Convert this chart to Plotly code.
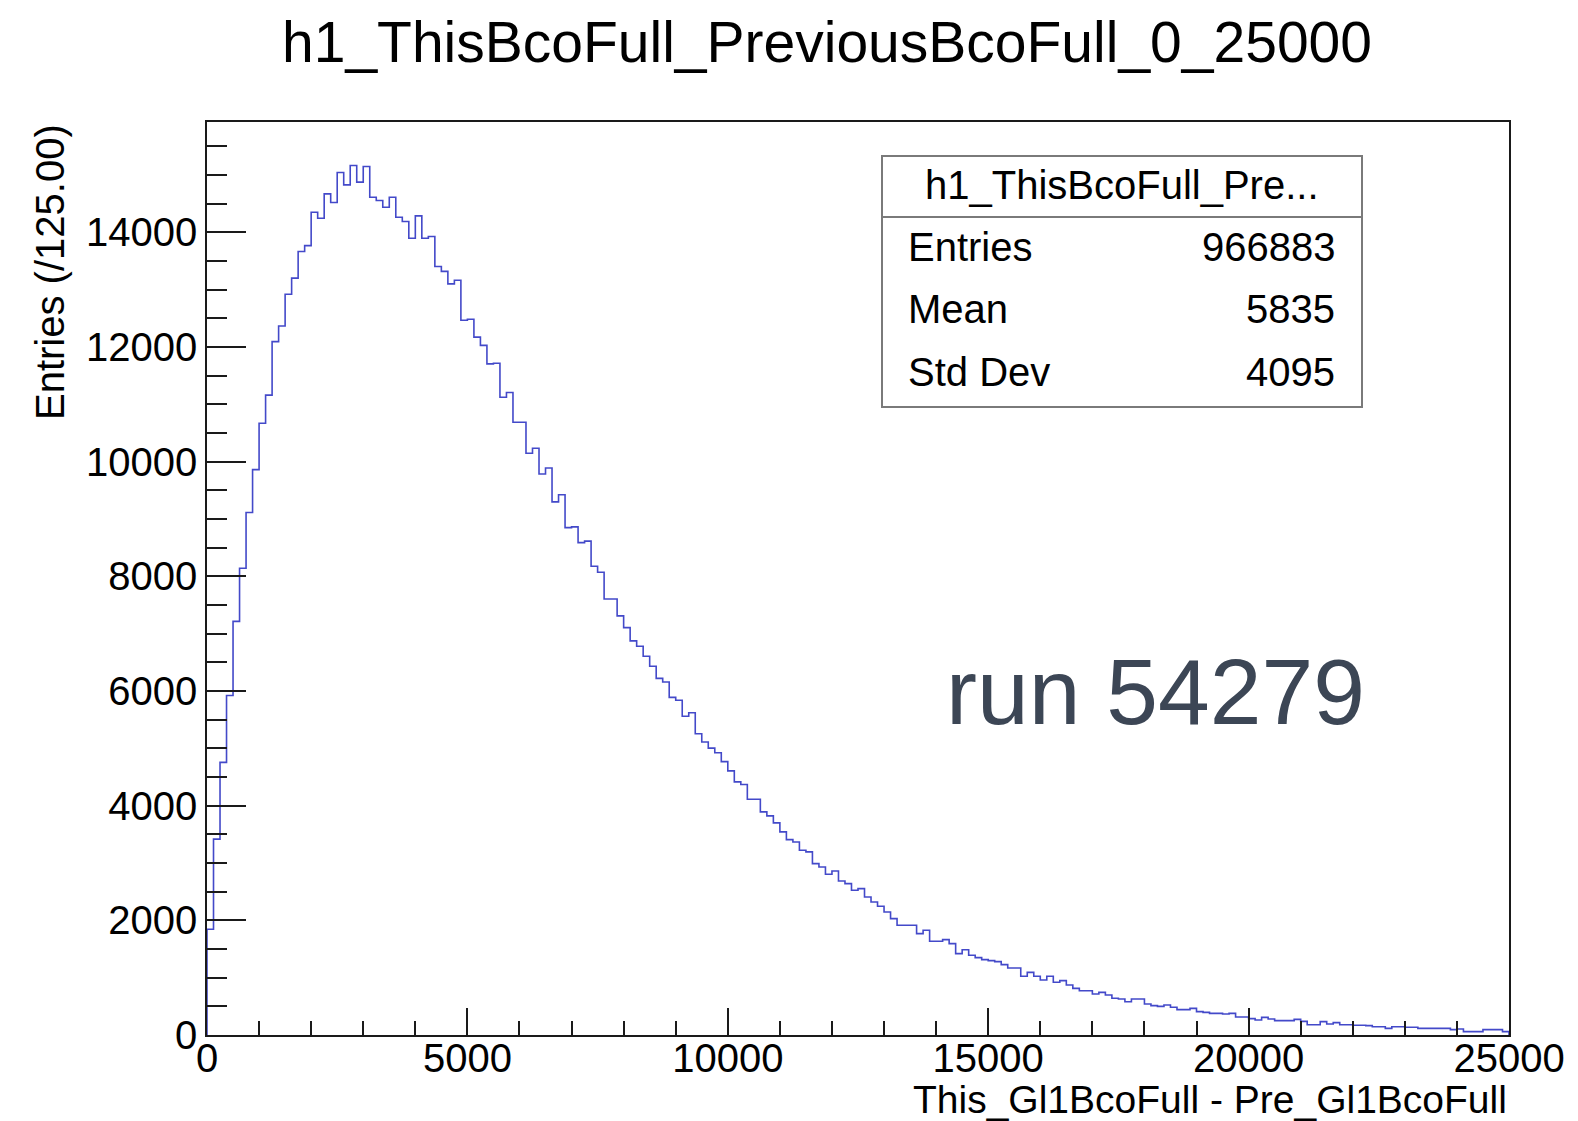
import plotly.graph_objects as go

# ---------------- data ----------------
bin_width = 125
x_min, x_max = 0, 25000
counts = [
    1844, 3416, 4755, 5922, 7214, 8140, 9113, 9860, 10669, 11159,
    12093, 12366, 12920, 13200, 13664, 13768, 14350, 14245, 14670, 14519,
    15042, 14827, 15165, 14874, 15147, 14612, 14554, 14437, 14612, 14263,
    14187, 13897, 14286, 13897, 13926, 13402, 13318, 13100, 13163, 12465,
    12483, 12172, 12028, 11704, 11717, 11124, 11206, 10688, 10688, 10146,
    10233, 9784, 9890, 9298, 9423, 8849, 8862, 8588, 8613, 8176,
    8070, 7603, 7603, 7310, 7104, 6874, 6780, 6606, 6431, 6219,
    6157, 5889, 5839, 5558, 5621, 5253, 5110, 5004, 4923, 4767,
    4606, 4414, 4368, 4112, 4112, 3891, 3821, 3699, 3542, 3408,
    3367, 3222, 3193, 2989, 2931, 2803, 2861, 2687, 2640, 2524,
    2553, 2408, 2320, 2245, 2146, 2029, 1913, 1913, 1913, 1768,
    1826, 1634, 1634, 1663, 1593, 1419, 1488, 1390, 1349, 1314,
    1297, 1279, 1227, 1169, 1169, 1024, 1093, 1024, 960, 1024,
    919, 948, 872, 814, 773, 773, 715, 744, 698, 640,
    628, 581, 628, 628, 541, 512, 500, 523, 483, 442,
    442, 465, 407, 395, 378, 378, 366, 378, 314, 314,
    285, 262, 308, 279, 250, 250, 250, 273, 238, 180,
    180, 233, 192, 215, 180, 180, 169, 169, 163, 145,
    145, 116, 145, 145, 134, 134, 116, 116, 116, 116,
    116, 93, 105, 58, 58, 58, 93, 93, 93, 58,
]
hist_name = "h1_ThisBcoFull_PreviousBcoFull_0_25000"
stats_title = "h1_ThisBcoFull_Pre..."
stats_labels = ["Entries", "Mean", "Std Dev"]
stats_values = ["966883", "5835", "4095"]
x_title = "This_Gl1BcoFull - Pre_Gl1BcoFull"
y_title = "Entries (/125.00)"
run_label = "run 54279"
x_tickvals = [0, 5000, 10000, 15000, 20000, 25000]
y_tickvals = [0, 2000, 4000, 6000, 8000, 10000, 12000, 14000]

# ---------------- geometry ----------------
W, H = 1578, 1121
L, R, T, B = 207, 69, 122, 86
PW, PH = W - L - R, H - T - B

def px(xp):
    return (xp - L) / PW

def py(yp):
    return (H - B - yp) / PH

edges = [x_min + i * bin_width for i in range(len(counts) + 1)]
xs = [edges[0]] + edges
ys = [0] + counts + [0]
y_top = 1.05 * max(counts)

FONT = "Liberation Sans, Arial, Helvetica, sans-serif"

fig = go.Figure()
fig.add_trace(go.Scatter(
    x=xs, y=ys, mode="lines", line=dict(shape="hv", color="#4349c9", width=1.6),
    hoverinfo="skip", showlegend=False,
))

axis_common = dict(
    showgrid=False, zeroline=False, showline=True, linecolor="#1a1a1a",
    linewidth=1.5, mirror=True, ticks="inside", tickcolor="#1a1a1a",
    tickwidth=1.5, tickformat="d", tickfont=dict(family=FONT, size=40, color="black"),
)
fig.update_xaxes(
    range=[x_min, x_max], tickvals=x_tickvals, ticklen=27, ticklabelstandoff=-13,
    minor=dict(dtick=1000, ticklen=14, ticks="inside", tickcolor="#1a1a1a", tickwidth=1.5),
    **axis_common,
)
fig.update_yaxes(
    range=[0, y_top], tickvals=y_tickvals, ticklen=39,
    minor=dict(dtick=500, ticklen=20, ticks="inside", tickcolor="#1a1a1a", tickwidth=1.5),
    **axis_common,
)

ann = []
# axis titles
ann.append(dict(text=x_title, xref="paper", yref="paper", x=1.0, y=py(1099),
                xanchor="right", yanchor="middle", showarrow=False,
                font=dict(family=FONT, size=39, color="black")))
ann.append(dict(text=y_title, xref="paper", yref="paper", x=px(50), y=1.0,
                xanchor="center", yanchor="top", textangle=-90, showarrow=False,
                font=dict(family=FONT, size=40, color="black")))
# stats box
box_x0, box_x1, box_y0, box_y1, sep_y = 882, 1362, 156, 407, 217
ann.append(dict(text=stats_title, xref="paper", yref="paper",
                x=px((box_x0 + box_x1) / 2), y=py(185), xanchor="center", yanchor="middle",
                showarrow=False, font=dict(family=FONT, size=40, color="black")))
row_y = [247, 309, 372]
for lab, val, yy in zip(stats_labels, stats_values, row_y):
    ann.append(dict(text=lab, xref="paper", yref="paper", x=px(906), y=py(yy),
                    xanchor="left", yanchor="middle", showarrow=False,
                    font=dict(family=FONT, size=40, color="black")))
    ann.append(dict(text=val, xref="paper", yref="paper", x=px(1337), y=py(yy),
                    xanchor="right", yanchor="middle", showarrow=False,
                    font=dict(family=FONT, size=40, color="black")))
# run label
ann.append(dict(text=run_label, xref="paper", yref="paper", x=px(944), y=py(692),
                xanchor="left", yanchor="middle", showarrow=False,
                font=dict(family=FONT, size=93, color="#3c4655")))

shapes = [
    dict(type="rect", xref="paper", yref="paper", x0=px(box_x0), x1=px(box_x1),
         y0=py(box_y1), y1=py(box_y0), line=dict(color="#7a7a7a", width=2), fillcolor="white",
         layer="above"),
    dict(type="line", xref="paper", yref="paper", x0=px(box_x0), x1=px(box_x1),
         y0=py(sep_y), y1=py(sep_y), line=dict(color="#7a7a7a", width=2)),
]

fig.update_layout(
    width=W, height=H, margin=dict(l=L, r=R, t=T, b=B, pad=0),
    paper_bgcolor="white", plot_bgcolor="white",
    title=dict(text=hist_name, x=827 / W, xanchor="center", y=1 - 42 / H, yanchor="middle",
               xref="container", yref="container",
               font=dict(family=FONT, size=57, color="black")),
    annotations=ann, shapes=shapes,
)

fig.write_html("out.html", config={"displayModeBar": False})
